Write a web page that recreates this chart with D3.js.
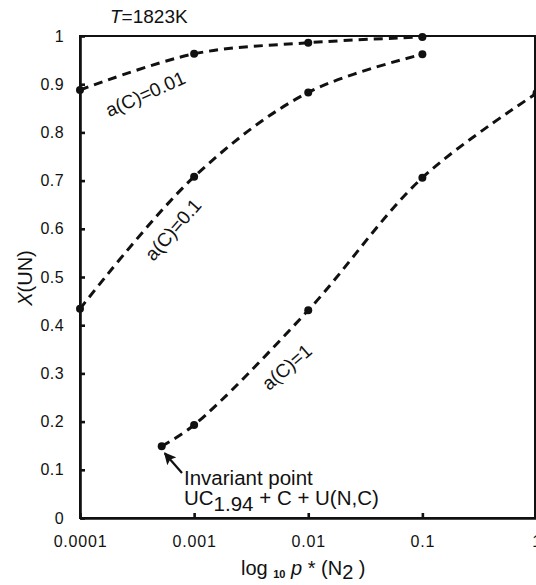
<!DOCTYPE html>
<html>
<head>
<meta charset="utf-8">
<script src="https://cdn.jsdelivr.net/npm/d3@7"></script>
<style>
  body { margin: 0; background: #fff; }
  text { font-family: "Liberation Sans", Arial, sans-serif; fill: #111; }
</style>
</head>
<body>
<svg id="chart" width="536" height="585"></svg>
<script>
// values
var pN2 = [0.0001, 0.001, 0.01, 0.1];
var xUN_ac001 = [0.888, 0.963, 0.986, 0.998];
var xUN_ac01 = [0.434, 0.708, 0.883, 0.962];
var pN2_ac1 = [0.00052, 0.001, 0.01, 0.1, 1];
var xUN_ac1 = [0.149, 0.193, 0.431, 0.706, 0.881];

var xTicks = [0.0001, 0.001, 0.01, 0.1, 1];
var xTickLabels = ["0.0001", "0.001", "0.01", "0.1", "1"];
var yTicks = [0, 0.1, 0.2, 0.3, 0.4, 0.5, 0.6, 0.7, 0.8, 0.9, 1];
var yTickLabels = ["0", "0.1", "0.2", "0.3", "0.4", "0.5", "0.6", "0.7", "0.8", "0.9", "1"];

var svg = d3.select("#chart"),
    plotLeft = 80, plotRight = 536.5, plotTop = 36, plotBottom = 518;

var x = d3.scaleLog().domain([0.0001, 1]).range([plotLeft, plotRight]);
var y = d3.scaleLinear().domain([0, 1]).range([plotBottom, plotTop]);

// frame
svg.append("rect")
    .attr("x", plotLeft).attr("y", plotTop)
    .attr("width", 535 - plotLeft).attr("height", plotBottom - plotTop)
    .attr("fill", "none").attr("stroke", "#111").attr("stroke-width", 2);

svg.append("g")
    .attr("class", "y axis")
    .attr("transform", "translate(" + plotLeft + ",0)")
    .call(d3.axisLeft(y).tickValues(yTicks)
        .tickFormat(function (d, i) { return yTickLabels[i]; })
        .tickSizeInner(-5).tickSizeOuter(0).tickPadding(16));

svg.append("g")
    .attr("class", "x axis")
    .attr("transform", "translate(0," + plotBottom + ")")
    .call(d3.axisBottom(x).tickValues(xTicks)
        .tickFormat(function (d, i) { return xTickLabels[i]; })
        .tickSizeInner(-5).tickSizeOuter(0).tickPadding(18));

svg.selectAll(".domain").attr("stroke", "#111").attr("stroke-width", 2.6);
svg.selectAll(".tick line").attr("stroke", "#111").attr("stroke-width", 2.6);
svg.selectAll(".tick text").style("font-size", "16px").attr("fill", "#111");
svg.selectAll(".y.axis .tick text").style("letter-spacing", "0.4px");
svg.selectAll(".x.axis .tick text").style("letter-spacing", "0.8px");

// curves
var line = d3.line()
    .x(function (d) { return x(d[0]); })
    .y(function (d) { return y(d[1]); })
    .curve(d3.curveCatmullRom.alpha(0.5));

var series = [
    d3.zip(pN2, xUN_ac001),
    d3.zip(pN2, xUN_ac01),
    d3.zip(pN2_ac1, xUN_ac1)
];

series.forEach(function (s) {
    svg.append("path")
        .datum(s)
        .attr("d", line)
        .attr("fill", "none")
        .attr("stroke", "#111")
        .attr("stroke-width", 3)
        .attr("stroke-dasharray", "9,6");
    svg.selectAll(null)
        .data(s)
        .enter().append("circle")
        .attr("cx", function (d) { return x(d[0]); })
        .attr("cy", function (d) { return y(d[1]); })
        .attr("r", 4)
        .attr("fill", "#111");
});

// curve labels
function curveLabel(txt, px, py, angle) {
    svg.append("text")
        .attr("transform", "translate(" + px + "," + py + ") rotate(" + angle + ")")
        .attr("text-anchor", "middle")
        .style("font-size", "19px")
        .text(txt);
}
curveLabel("a(C)=0.01", 148, 100, -24);
curveLabel("a(C)=0.1", 178, 234, -49);
curveLabel("a(C)=1", 291, 372, -41);

// title
var t = svg.append("text").attr("x", 110).attr("y", 23).style("font-size", "19px");
t.append("tspan").style("font-style", "italic").text("T");
t.append("tspan").text("=1823K");

// y axis title
var yt = svg.append("text")
    .attr("transform", "translate(32,278) rotate(-90)")
    .attr("text-anchor", "middle")
    .style("font-size", "20px");
yt.append("tspan").style("font-style", "italic").text("X");
yt.append("tspan").text("(UN)");

// x axis title
var xt = svg.append("text").attr("x", 241).attr("y", 575).style("font-size", "20px");
xt.append("tspan").text("log ");
xt.append("tspan").attr("dy", 3).style("font-size", "11px").style("font-weight", "bold").text("10");
xt.append("tspan").attr("dy", -3).text(" ");
xt.append("tspan").style("font-style", "italic").text("p");
xt.append("tspan").text(" *  (N");
xt.append("tspan").attr("dy", 4).text("2");
xt.append("tspan").attr("dy", -4).text(" )");

// invariant point annotation
svg.append("defs").append("marker")
    .attr("id", "arr").attr("viewBox", "0 0 10 10")
    .attr("refX", 9).attr("refY", 5)
    .attr("markerWidth", 6).attr("markerHeight", 6)
    .attr("markerUnits", "userSpaceOnUse")
    .attr("orient", "auto")
    .append("path").attr("d", "M0,0 L10,5 L0,10 L2,5 z").attr("fill", "#111");

svg.append("line")
    .attr("x1", 182).attr("y1", 473)
    .attr("x2", x(pN2_ac1[0]) + 3).attr("y2", y(xUN_ac1[0]) + 7)
    .attr("stroke", "#111").attr("stroke-width", 2.2)
    .attr("marker-end", "url(#arr)");

svg.select("#arr path").attr("transform", "scale(1)");
svg.select("#arr").attr("markerWidth", 12).attr("markerHeight", 12);

svg.append("text").attr("x", 184).attr("y", 485).style("font-size", "20.5px").text("Invariant point");
var ut = svg.append("text").attr("x", 184).attr("y", 505).style("font-size", "20.5px");
ut.append("tspan").text("UC");
ut.append("tspan").attr("dy", 6).text("1.94");
ut.append("tspan").attr("dy", -6).text(" + C  + U(N,C)");
</script>
</body>
</html>
